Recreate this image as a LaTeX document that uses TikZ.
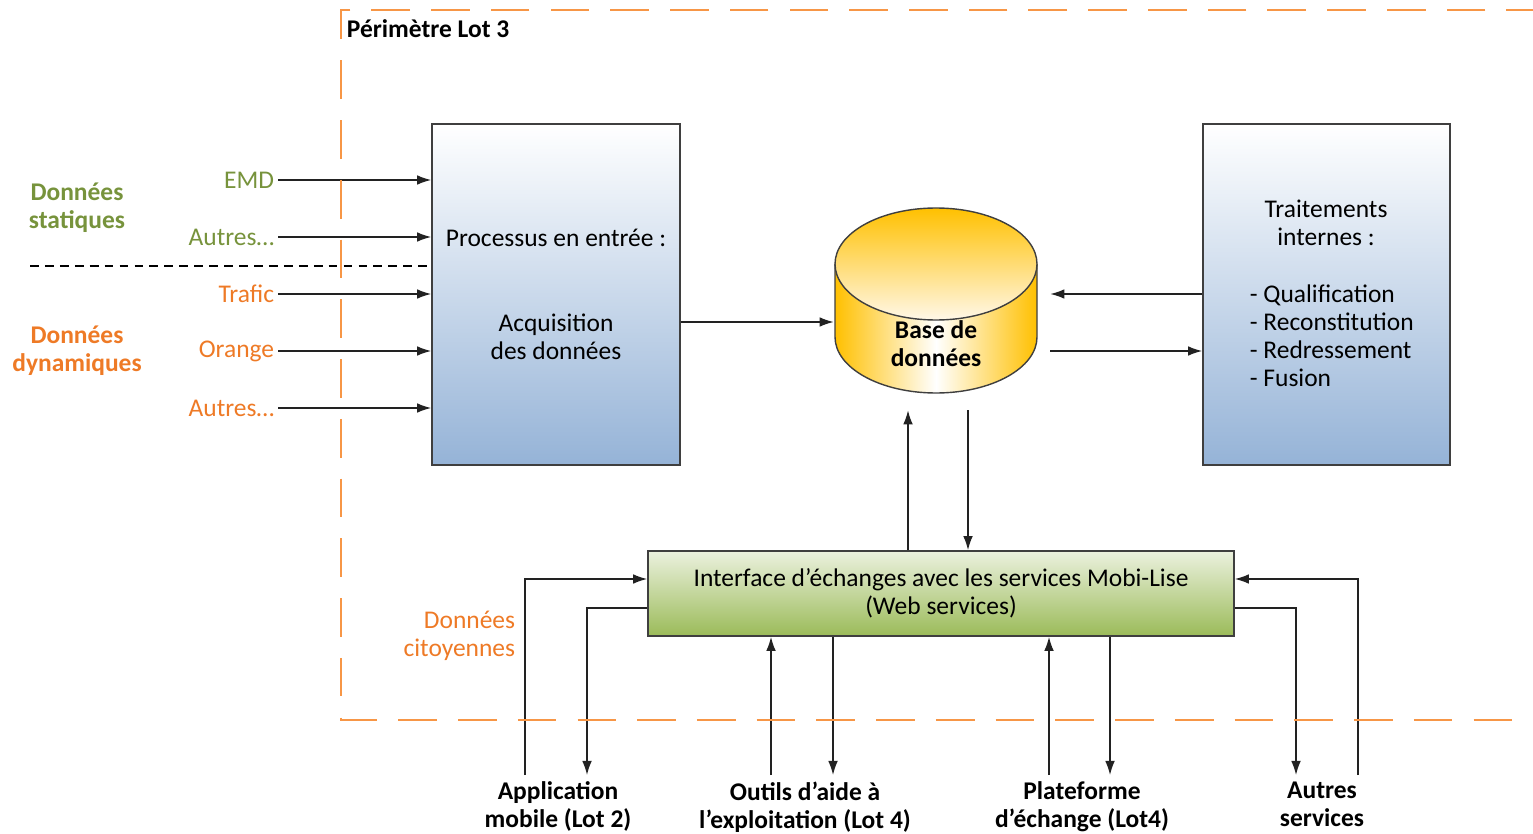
\documentclass[tikz,border=0pt]{standalone}
\usepackage{fontspec}
\setmainfont{Carlito}
\usetikzlibrary{arrows.meta,calc}
\definecolor{lotorange}{HTML}{F79646}
\definecolor{dynorange}{HTML}{EE7A26}
\definecolor{statgreen}{HTML}{77933C}
\definecolor{boxblue}{HTML}{95B3D7}
\definecolor{boxedge}{HTML}{3F3F3F}
\definecolor{ifgreen}{HTML}{9BBB59}
\definecolor{iftop}{HTML}{EBF1DE}
\definecolor{dbyellow}{HTML}{FFC000}
\definecolor{dbtop}{HTML}{FFF8E8}
\definecolor{linegray}{HTML}{222222}

\begin{document}
\begin{tikzpicture}[x=0.02cm, y=-0.02cm,
    txt/.style={font=\fontsize{14.5}{16}\selectfont, inner sep=2pt, align=center},
    bold/.style={txt, font=\fontsize{14.5}{16}\selectfont\bfseries},
    procbox/.style={txt, draw=boxedge, line width=1pt, top color=white, bottom color=boxblue,
                    minimum width=4.96cm, minimum height=6.82cm},
    wsbox/.style={txt, draw=boxedge, line width=1pt, top color=iftop, bottom color=ifgreen,
                  minimum width=11.72cm, minimum height=1.7cm},
    perim/.style={lotorange, line width=1.5pt, dash pattern=on 22pt off 12pt},
    arrow/.style={-{Latex[length=8pt,width=5.5pt]}, line width=0.8pt, linegray},
    insrc/.style={txt, anchor=east}
]
\useasboundingbox (0,0) rectangle (1533,834);

% Boxes
\node[procbox] (acq) at (556,294.5) {Processus en entrée :\\[32pt]Acquisition\\des données};
\node[procbox, minimum width=4.94cm] (trt) at (1326.5,294.5) {};
\node[txt] (trthead) at (1326,222.5) {Traitements\\internes :};
\node[txt, align=left, anchor=west] (trtlist) at (1246,335.5) {- Qualification\\- Reconstitution\\- Redressement\\- Fusion};
\node[wsbox] (wsi) at (941,593.5) {Interface d’échanges avec les services Mobi-Lise\\(Web services)};

% Database
\node[minimum width=4.04cm, minimum height=3.7cm, inner sep=0] (db) at (936,300.5) {};
\shade[left color=dbyellow, right color=dbyellow, middle color=white]
    (835,264) -- (835,337) arc[start angle=180, end angle=0, x radius=101, y radius=56] -- (1037,264) -- cycle;
\draw[boxedge, line width=0.8pt]
    (835,264) -- (835,337) arc[start angle=180, end angle=0, x radius=101, y radius=56] -- (1037,264);
\shade[top color=dbyellow, bottom color=dbtop] (936,264) ellipse[x radius=101, y radius=56];
\draw[boxedge, line width=0.8pt] (936,264) ellipse[x radius=101, y radius=56];
\node[bold] (dbtxt) at (936,344) {Base de\\données};

% Inputs
\node[bold, text=statgreen] (stat) at (77,207.5) {Données\\statiques};
\node[bold, text=dynorange] (dyn) at (77,350.5) {Données\\dynamiques};
\node[insrc, text=statgreen] (emd) at (278,180) {EMD};
\node[insrc, text=statgreen] (sother) at (278,237) {Autres…};
\node[insrc, text=dynorange] (trafic) at (278,294) {Trafic};
\node[insrc, text=dynorange] (orange) at (278,351) {Orange};
\node[insrc, text=dynorange] (dother) at (278,408) {Autres…};
\foreach \src in {emd,sother,trafic,orange,dother}
    \draw[arrow] (\src.east) -- (\src.east -| acq.west);
\coordinate (sepleft) at (30,266);
\draw[black, line width=0.8pt, dash pattern=on 5pt off 3.5pt] (sepleft) -- (sepleft -| acq.west);

% Database links
\draw[arrow] ($(acq.east)+(0,27.5)$) -- ($(db.west)+(-1,21.5)$);
\draw[arrow] ($(trt.west)+(0,-0.5)$) -- ($(db.east)+(13,-6.5)$);
\draw[arrow] ($(db.east)+(13,50.5)$) -- ($(trt.west)+(0,56.5)$);
\coordinate (dbout) at ($(db.south)+(-28,17)$);
\coordinate (dbin) at ($(db.south)+(32,17)$);
\draw[arrow] (dbout |- wsi.north) -- (dbout);
\draw[arrow] (dbin) -- (dbin |- wsi.north);

% Services
\node[txt, align=right, anchor=east, text=dynorange] (cit) at (519,635.5) {Données\\citoyennes};
\node[bold, anchor=north] (app) at (558,778) {Application\\mobile (Lot 2)};
\node[bold, anchor=north] (tools) at (805,778) {Outils d’aide à\\l’exploitation (Lot 4)};
\node[bold, anchor=north] (plat) at (1082,778) {Plateforme\\d’échange (Lot4)};
\node[bold, anchor=north] (serv) at (1322,778) {Autres\\services};

\draw[arrow] ($(app.north)+(-33,-3)$) |- ($(wsi.west)+(0,-14.5)$);
\draw[arrow] ($(wsi.west)+(0,14.5)$) -| ($(app.north)+(29,-3)$);
\draw[arrow] ($(tools.north)+(-34,-3)$) -- ($(wsi.south)+(-170,0)$);
\draw[arrow] ($(wsi.south)+(-108,0)$) -- ($(tools.north)+(28,-3)$);
\draw[arrow] ($(plat.north)+(-33,-3)$) -- ($(wsi.south)+(108,0)$);
\draw[arrow] ($(wsi.south)+(169,0)$) -- ($(plat.north)+(28,-3)$);
\draw[arrow] ($(wsi.east)+(0,14.5)$) -| ($(serv.north)+(-26,-3)$);
\draw[arrow] ($(serv.north)+(36,-3)$) |- ($(wsi.east)+(0,-14.5)$);

% Perimetre
\draw[perim] (1545,10) -- (341,10) -- (341,720) -- (1545,720);
\node[bold, anchor=west] (perim) at (343,29) {Périmètre Lot 3};
\end{tikzpicture}
\end{document}
